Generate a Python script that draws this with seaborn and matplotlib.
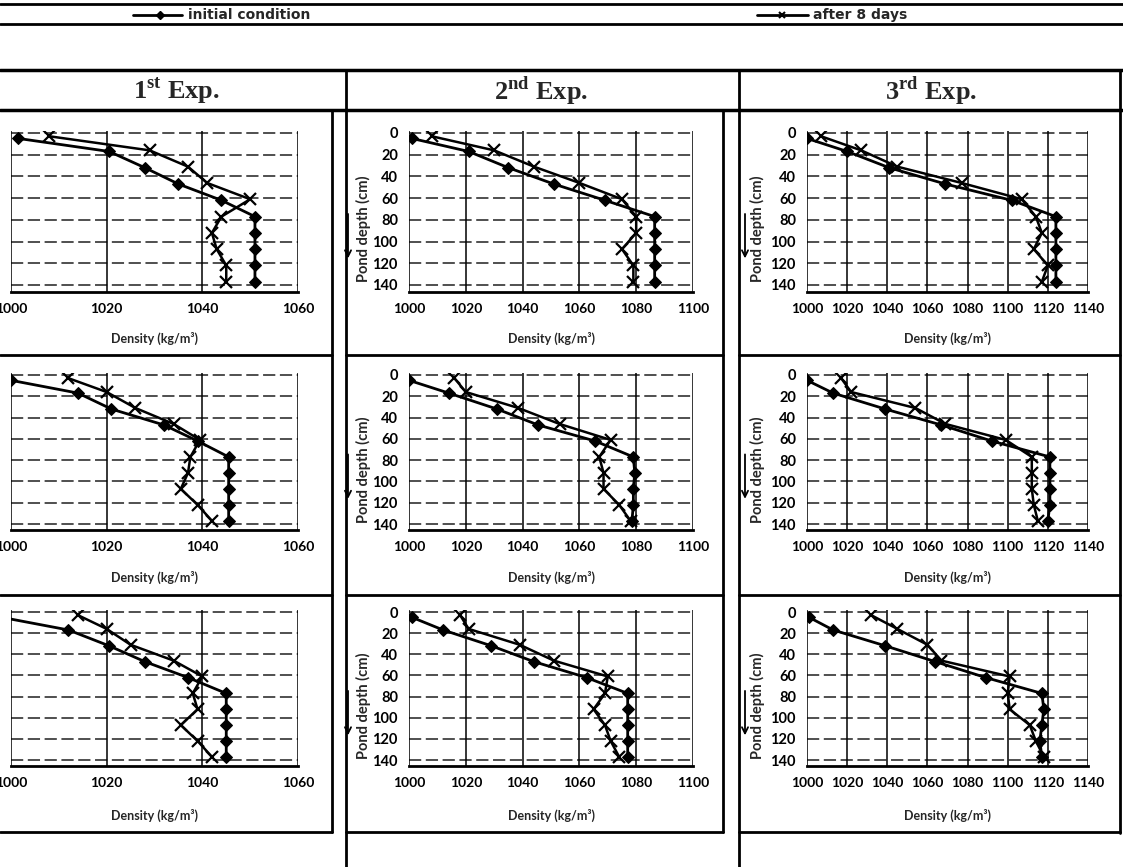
import matplotlib
matplotlib.use("Agg")
import matplotlib.pyplot as plt
import seaborn as sns
import pandas as pd
from matplotlib.lines import Line2D
from matplotlib.patches import FancyArrowPatch

# ---------------- data ----------------
depth_init = [5, 17, 32, 47, 62, 77, 92, 107, 122, 137]
depth_after = [3, 16, 31, 46, 61, 77, 92, 107, 122, 137]

exp_titles = [r"1$^{\mathbf{st}}$ Exp.", r"2$^{\mathbf{nd}}$ Exp.", r"3$^{\mathbf{rd}}$ Exp."]
legend_labels = ["initial condition", "after 8 days"]
x_label = "Density (kg/m³)"
y_label = "Pond depth (cm)"
depth_ticks = [0, 20, 40, 60, 80, 100, 120, 140]
density_ticks_exp1 = [1000, 1020, 1040, 1060]
density_ticks_exp2 = [1000, 1020, 1040, 1060, 1080, 1100]
density_ticks_exp3 = [1000, 1020, 1040, 1060, 1080, 1100, 1120, 1140]

# row 1
init_r1_e1 = [1001.5, 1020.5, 1028, 1035, 1044, 1051, 1051, 1051, 1051, 1051]
after_r1_e1 = [1008, 1029, 1037, 1041, 1050, 1044, 1042, 1043, 1045, 1045]
init_r1_e2 = [1001, 1021, 1035, 1051, 1069, 1086.5, 1086.5, 1086.5, 1086.5, 1086.5]
after_r1_e2 = [1008, 1030, 1044, 1060, 1075, 1080, 1080, 1075, 1079, 1079]
init_r1_e3 = [1000, 1020, 1041, 1069, 1102, 1124, 1124, 1124, 1124, 1124]
after_r1_e3 = [1007, 1027, 1045, 1077, 1107, 1114, 1117, 1113, 1120, 1117]
# row 2
init_r2_e1 = [1000, 1014, 1021, 1032, 1039, 1045.5, 1045.5, 1045.5, 1045.5, 1045.5]
after_r2_e1 = [1012, 1020, 1026, 1034, 1039.5, 1037.5, 1037, 1035.5, 1039, 1042]
init_r2_e2 = [1000, 1014, 1031, 1045.5, 1065.5, 1079, 1079.5, 1079, 1079, 1078.5]
after_r2_e2 = [1016, 1020, 1038.5, 1053, 1071, 1067, 1068.5, 1068.5, 1074, 1078]
init_r2_e3 = [1000, 1013, 1039, 1067, 1092, 1121, 1121, 1121, 1121, 1120]
after_r2_e3 = [1017, 1022, 1054, 1069, 1099, 1112, 1112, 1112, 1113, 1115]
# row 3
init_r3_e1 = [998, 1012, 1020.5, 1028, 1037, 1045, 1045, 1045, 1045, 1045]
after_r3_e1 = [1014, 1020, 1025, 1034, 1040, 1038, 1039, 1035.5, 1039, 1042]
init_r3_e2 = [1001, 1012, 1029, 1044, 1062.5, 1077, 1077, 1077, 1077, 1077]
after_r3_e2 = [1018, 1021, 1039, 1051, 1070, 1069, 1065, 1069, 1071, 1074]
init_r3_e3 = [1001, 1013, 1039, 1064, 1089, 1117, 1118, 1117, 1116, 1117]
after_r3_e3 = [1032, 1045, 1060, 1067, 1101, 1100, 1101, 1111, 1114, 1118]

panels = [
    [(init_r1_e1, after_r1_e1), (init_r1_e2, after_r1_e2), (init_r1_e3, after_r1_e3)],
    [(init_r2_e1, after_r2_e1), (init_r2_e2, after_r2_e2), (init_r2_e3, after_r2_e3)],
    [(init_r3_e1, after_r3_e1), (init_r3_e2, after_r3_e2), (init_r3_e3, after_r3_e3)],
]
col_ticks = [density_ticks_exp1, density_ticks_exp2, density_ticks_exp3]

# ---------------- style ----------------
sns.set_style("white")
plt.rcParams["font.family"] = ["Lato", "DejaVu Sans"]
plt.rcParams["font.weight"] = "bold"
plt.rcParams["mathtext.fontset"] = "custom"
plt.rcParams["mathtext.rm"] = "Liberation Serif:bold"
plt.rcParams["mathtext.bf"] = "Liberation Serif:bold"

W, H = 1123, 867
fig = plt.figure(figsize=(W / 100, H / 100), dpi=100)
fig.patch.set_facecolor("white")

def fx(x):
    return x / W

def fy(y):
    return 1 - y / H

def hline(y, x0, x1, lw=2.0):
    fig.add_artist(Line2D([fx(x0), fx(x1)], [fy(y), fy(y)], color="k", lw=lw,
                          transform=fig.transFigure))

def vline(x, y0, y1, lw=2.0):
    fig.add_artist(Line2D([fx(x), fx(x)], [fy(y0), fy(y1)], color="k", lw=lw,
                          transform=fig.transFigure))

# pixel geometry
col_px = [(11, 298), (409, 693), (807, 1088)]
row_px = [(133, 285), (375, 524), (612, 760)]
density_label_y = [338, 577, 815]
ylab_x = [None, 363, 757]
arrow_x = [None, 348, 745]
title_x = [176, 541, 931]

for r in range(3):
    y0, y140 = row_px[r]
    s = (y140 - y0) / 140.0
    top = y0 - 2 * s
    bottom = y0 + 146 * s
    for c in range(3):
        x0, x1 = col_px[c]
        ax = fig.add_axes([fx(x0), fy(bottom), (x1 - x0) / W, (bottom - top) / H])
        ax.set_facecolor("none")
        ticks = col_ticks[c]
        for yv in depth_ticks:
            ax.axhline(yv, color="0.12", lw=1.1, ls=(0, (8, 3)), zorder=0)
        for xv in ticks:
            ax.axvline(xv, color="k", lw=1.1, zorder=0)
        init_vals, after_vals = panels[r][c]
        df_i = pd.DataFrame({"density": init_vals, "depth": depth_init})
        df_a = pd.DataFrame({"density": after_vals, "depth": depth_after})
        sns.lineplot(data=df_i, x="density", y="depth", sort=False, estimator=None,
                     color="k", lw=2, marker="D", markersize=6, markeredgecolor="k",
                     ax=ax, zorder=3)
        sns.lineplot(data=df_a, x="density", y="depth", sort=False, estimator=None,
                     color="k", lw=1.8, marker="x", markersize=8, markeredgewidth=1.6,
                     markeredgecolor="k", ax=ax, zorder=3)
        ax.set_xlim(ticks[0], ticks[-1])
        ax.set_ylim(146, -2)
        ax.set_xticks(ticks)
        ax.set_xticklabels([str(t) for t in ticks])
        ax.set_yticks(depth_ticks)
        ax.set_yticklabels([str(t) for t in depth_ticks])
        for sp in ["top", "left", "right"]:
            ax.spines[sp].set_visible(False)
        ax.spines["bottom"].set_linewidth(2)
        ax.spines["bottom"].set_color("k")
        ax.tick_params(axis="x", length=3, width=1, direction="out", pad=5,
                       labelsize=10, colors="k")
        ax.tick_params(axis="y", length=0, pad=8, labelsize=10.5, colors="k",
                       labelleft=(c > 0))
        ax.set_xlabel("")
        ax.set_ylabel("")
        cx = (x0 + x1) / 2
        fig.text(fx(cx), fy(density_label_y[r]), x_label, ha="center", va="center",
                 fontsize=9, fontweight="bold")
        if c > 0:
            cy = (top + bottom) / 2
            fig.text(fx(ylab_x[c]), fy(cy + 18), y_label, rotation=90, ha="center",
                     va="center", fontsize=10.5, fontweight="bold")
            fig.add_artist(FancyArrowPatch((fx(arrow_x[c]), fy(cy)),
                                           (fx(arrow_x[c]), fy(cy + 50)),
                                           transform=fig.transFigure, arrowstyle="->",
                                           mutation_scale=11, lw=1.3, color="k"))

# ---------------- table frame ----------------
hline(4, 0, W, 2)
hline(24, 0, W, 2)
hline(70, 0, W, 2.5)
hline(110, 0, W, 2.5)
vline(346, 70, H, 2)
vline(739, 70, H, 2)
vline(1120, 70, 833, 2)
vline(332, 110, 832, 2)
vline(723, 110, 832, 2)
for yy in [355, 595, 832]:
    hline(yy, 0, 332, 2)
    hline(yy, 346, 723, 2)
    hline(yy, 739, 1120, 2)

# ---------------- titles ----------------
for c in range(3):
    fig.text(fx(title_x[c]), fy(91), exp_titles[c], ha="center", va="center",
             fontsize=19, family="Liberation Serif", fontweight="bold")

# ---------------- legend ----------------
fig.add_artist(Line2D([fx(133), fx(182)], [fy(15), fy(15)], color="k", lw=2,
                      transform=fig.transFigure))
fig.add_artist(Line2D([fx(160)], [fy(15)], color="k", marker="D", markersize=4,
                      transform=fig.transFigure))
fig.text(fx(188), fy(15), legend_labels[0], ha="left", va="center", fontsize=10,
         family="DejaVu Sans", fontweight="bold")
fig.add_artist(Line2D([fx(757), fx(808)], [fy(15), fy(15)], color="k", lw=2,
                      transform=fig.transFigure))
fig.add_artist(Line2D([fx(782)], [fy(15)], color="k", marker="x", markersize=5,
                      markeredgewidth=1.5, transform=fig.transFigure))
fig.text(fx(813), fy(15), legend_labels[1], ha="left", va="center", fontsize=10,
         family="DejaVu Sans", fontweight="bold")

fig.savefig("out.png", dpi=100, facecolor="white")
